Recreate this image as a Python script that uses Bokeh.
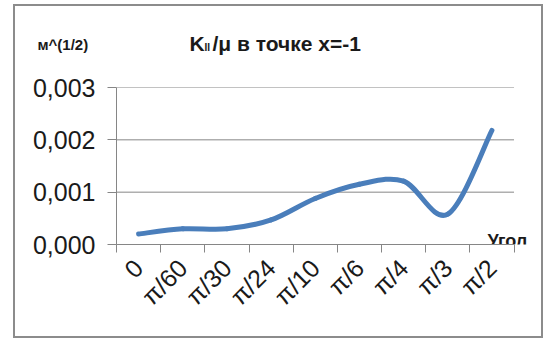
import numpy as np
from bokeh.plotting import figure
from bokeh.layouts import column
from bokeh.models import Range1d, FixedTicker, CustomJSTickFormatter
from bokeh.core.properties import value
from bokeh.embed import file_html
from bokeh.resources import INLINE

# Data: K_II/mu at x = -1 for each angle
angles = ["0", "π/60", "π/30", "π/24", "π/10", "π/6", "π/4", "π/3", "π/2"]
k_values = [0.00020, 0.00030, 0.00030, 0.00047, 0.00088, 0.00115, 0.00121, 0.00058, 0.00218]
y_ticks = [0.000, 0.001, 0.002, 0.003]

FONT = "Liberation Sans"
GRAY = "#868686"
BLUE = "#4a7ebb"
TEXT = "#1a1a1a"

W = 526                 # inner width of the chart box
HEAD_H = 54             # header strip with the titles
MAIN_H = 276            # plotting part
LEFT, TOP, BOTTOM = 101, 27, 92
CAT_PX = 44.17          # width of one category slot, px
FW = W - LEFT           # frame runs to the right edge so the axis name fits
FH = MAIN_H - TOP - BOTTOM
n = len(angles)
x_end = FW / CAT_PX

# ---- header with chart title and unit label ----
head = figure(width=W, height=HEAD_H, output_backend="svg", toolbar_location=None,
              title=None, x_range=Range1d(0, W), y_range=Range1d(HEAD_H, 0),
              x_axis_type=None, y_axis_type=None, frame_align=False,
              min_border_left=0, min_border_right=0,
              min_border_top=0, min_border_bottom=0)
head.outline_line_color = None
head.grid.visible = False

def head_text(x, y, text, size):
    head.text(x=[x], y=[y], text=[text], text_font=value(FONT),
              text_font_size=value(size), text_font_style="bold",
              text_color=TEXT, text_baseline="alphabetic", text_align="left")

head_text(174, 37, "K", "21px")
head_text(189, 41, "II", "10px")
head_text(197, 37, "/μ в точке x=-1", "21px")
head_text(22, 38, "м^(1/2)", "15px")

# ---- main plot ----
p = figure(width=W, height=MAIN_H, output_backend="svg", toolbar_location=None,
           x_range=Range1d(0, x_end), y_range=Range1d(0, 0.003), frame_align=False,
           min_border_left=LEFT, min_border_right=0,
           min_border_top=TOP, min_border_bottom=BOTTOM)
p.outline_line_color = None
p.grid.visible = False

# horizontal gridlines over the category span only
p.segment(x0=0, x1=n, y0=y_ticks[1:], y1=y_ticks[1:], line_color=GRAY, line_width=1)

# y axis
yax = p.yaxis[0]
yax.ticker = FixedTicker(ticks=y_ticks)
yax.formatter = CustomJSTickFormatter(code="return tick.toFixed(3).replace('.', ',');")
yax.axis_line_color = GRAY
yax.major_tick_line_color = GRAY
yax.major_tick_out = 9
yax.major_tick_in = 0
yax.minor_tick_out = 0
yax.minor_tick_in = 0
yax.major_label_standoff = 12
yax.major_label_text_font = FONT
yax.major_label_text_font_size = "25px"
yax.major_label_text_color = TEXT

# x axis: labels at category centres, ticks between categories
xs = np.arange(n) + 0.5
xax = p.xaxis[0]
xax.bounds = (0, n)
xax.ticker = FixedTicker(ticks=list(xs), minor_ticks=list(range(n + 1)))
xax.major_label_overrides = {float(x): lab for x, lab in zip(xs, angles)}
xax.axis_line_color = GRAY
xax.major_tick_out = 0
xax.major_tick_in = 0
xax.minor_tick_line_color = GRAY
xax.minor_tick_out = 8
xax.minor_tick_in = 0
xax.major_label_orientation = np.pi / 4
xax.major_label_standoff = 11
xax.major_label_text_font = FONT
xax.major_label_text_font_size = "25px"
xax.major_label_text_color = TEXT

# smoothed line through the points (cubic Bezier segments)
ys = np.array(k_values)
px_ = np.concatenate([[xs[0]], xs, [xs[-1]]])
py_ = np.concatenate([[ys[0]], ys, [ys[-1]]])
i = np.arange(n - 1)
cx0 = px_[i + 1] + (px_[i + 2] - px_[i]) / 6
cy0 = py_[i + 1] + (py_[i + 2] - py_[i]) / 6
cx1 = px_[i + 2] - (px_[i + 3] - px_[i + 1]) / 6
cy1 = py_[i + 2] - (py_[i + 3] - py_[i + 1]) / 6
p.bezier(x0=xs[:-1], y0=ys[:-1], x1=xs[1:], y1=ys[1:],
         cx0=cx0, cy0=cy0, cx1=cx1, cy1=cy1,
         line_color=BLUE, line_width=5, line_cap="round")

# axis name sitting on the end of the category axis
p.text(x=[(472 - LEFT) / CAT_PX], y=[4 / FH * 0.003], text=["Угол"],
       text_font=value(FONT), text_font_size=value("18px"),
       text_font_style="bold", text_color=TEXT,
       text_baseline="alphabetic", text_align="left")

page = column(head, p, spacing=0)
page.styles = {"margin-left": "15px", "margin-top": "6px",
               "outline": "2px solid #8c8c8c"}

open("out.html", "w").write(file_html(page, INLINE))
